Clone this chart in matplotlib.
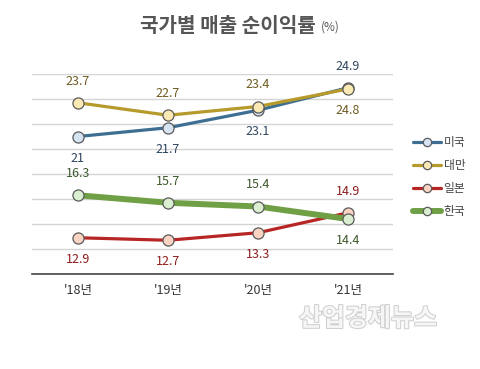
import matplotlib
matplotlib.use("Agg")
import matplotlib.pyplot as plt
import matplotlib.patheffects as pe

plt.rcParams['font.family'] = ['Noto Sans CJK KR', 'DejaVu Sans']

years = ["'18년", "'19년", "'20년", "'21년"]
series_names = ["미국", "대만", "일본", "한국"]
us = [21.0, 21.7, 23.1, 24.9]
taiwan = [23.7, 22.7, 23.4, 24.8]
japan = [12.9, 12.7, 13.3, 14.9]
korea = [16.3, 15.7, 15.4, 14.4]

# label placement: +1 above, -1 below
us_pos = [-1, -1, -1, 1]
tw_pos = [1, 1, 1, -1]
jp_pos = [-1, -1, -1, 1]
kr_pos = [1, 1, 1, -1]

styles = [
    (us, us_pos, '#3f6e93', '#d5e3f3', '#2f4660', 2.3),
    (taiwan, tw_pos, '#b79a2c', '#fbe9b4', '#6e5b21', 2.3),
    (japan, jp_pos, '#b82525', '#fbd3c3', '#8e1c1c', 2.3),
    (korea, kr_pos, '#6fa046', '#d9efcf', '#3d5a2c', 4.3),
]

fig = plt.figure(figsize=(4.81, 3.69), dpi=100)
W, H = 481, 369
ax = fig.add_axes([32 / W, 1 - 274 / H, (393 - 32) / W, (274 - 74) / H])
ax.set_ylim(10, 26)
ax.set_xlim(-0.51, 3.5)
ax.set_yticks(range(10, 27, 2))
ax.yaxis.grid(True, color='#d4d4d4', linewidth=1.0)
ax.set_axisbelow(True)
for s in ['left', 'right', 'top']:
    ax.spines[s].set_visible(False)
ax.spines['bottom'].set_color('#444444')
ax.spines['bottom'].set_linewidth(1.2)
ax.tick_params(axis='y', length=0, labelleft=False)
ax.tick_params(axis='x', length=0, pad=7, labelsize=9, labelcolor='#333333')
x = list(range(len(years)))
ax.set_xticks(x)
ax.set_xticklabels(years)

handles = []
for (vals, pos, lc, fc, tc, lw), name in zip(styles, series_names):
    h, = ax.plot(x, vals, color=lc, linewidth=lw, marker='o', markersize=8,
                 markerfacecolor=fc, markeredgecolor='#5a5a5a', markeredgewidth=0.9,
                 clip_on=False, label=name, solid_capstyle='round')
    handles.append(h)
    for xi, v, p in zip(x, vals, pos):
        ax.annotate(f"{v:g}", (xi, v), xytext=(0, 15.5 * p), textcoords='offset points',
                    ha='center', va='center', fontsize=9, color=tc)

leg = fig.legend(handles=handles, loc='upper left', bbox_to_anchor=(413 / W, 1 - 136 / H),
                 frameon=False, fontsize=8.5, handlelength=2.4, handletextpad=0.2,
                 labelspacing=0.85, borderpad=0, borderaxespad=0)
for t in leg.get_texts():
    t.set_color('#444444')
for lh in leg.legend_handles:
    lh.set_markersize(6)

fig.text(140 / W, 1 - 25 / H, "국가별 매출 순이익률", ha='left', va='center',
         fontsize=14.5, fontweight='bold', color='#555555')
fig.text(321 / W, 1 - 27 / H, "(%)", ha='left', va='center', fontsize=8.5, color='#555555')

fig.text(368 / W, 1 - 319 / H, "산업경제뉴스", ha='center', va='center', fontsize=18,
         fontweight='bold', color='#f6f6f6',
         path_effects=[pe.withStroke(linewidth=1.5, foreground='#d0d0d0')])

fig.savefig('out.png', dpi=100)
